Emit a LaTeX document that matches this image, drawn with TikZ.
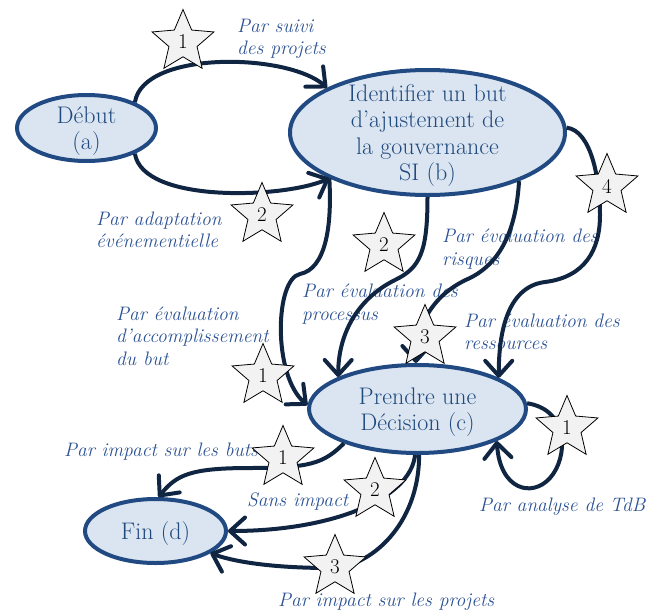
\documentclass[tikz,border=0pt]{standalone}
\usetikzlibrary{shapes.geometric,arrows.meta}

\definecolor{nodefill}{RGB}{219,229,241}
\definecolor{nodeline}{RGB}{33,74,130}
\definecolor{nodetext}{RGB}{31,73,125}
\definecolor{edgecol}{RGB}{16,37,66}
\definecolor{labtext}{RGB}{44,82,148}
\definecolor{starfill}{RGB}{242,242,242}

\begin{document}
\begin{tikzpicture}[
  x=1pt, y=-1pt,
  state/.style = {ellipse, draw=nodeline, fill=nodefill, line width=4pt,
                  inner sep=0pt},
  statetext/.style = {text=nodetext, align=center, yshift=-3pt,
                      font=\fontsize{24}{26.5}\selectfont},
  flow/.style = {draw=edgecol, line width=4pt,
                 -{Straight Barb[length=15pt,width=27pt,round]}},
  starmark/.style = {star, star points=5, star point ratio=2.2,
                     minimum size=65pt, inner sep=0pt, draw=black,
                     line width=0.8pt, fill=starfill,
                     font=\fontsize{21}{24}\selectfont},
  edgelab/.style = {anchor=west, inner sep=0pt, align=left, text=labtext,
                    font=\fontsize{19.5}{22.5}\selectfont\itshape},
]
\useasboundingbox (0,0) rectangle (650,613);

%% ── Labels of the transitions ────────────────────────────────────────────────
\node[edgelab] (tAB1) at (237,39)  {Par suivi\\des projets};
\node[edgelab] (tAB2) at (96,230)  {Par adaptation\\événementielle};
\node[edgelab] (tBC1) at (116,336) {Par évaluation\\d'accomplissement\\du but};
\node[edgelab] (tBC2) at (302,304) {Par évaluation des\\processus};
\node[edgelab] (tBC3) at (442,249) {Par évaluation des\\risques};
\node[edgelab] (tBC4) at (464,332) {Par évaluation des\\ressources};
\node[edgelab] (tCC1) at (479,507) {Par analyse de TdB};
\node[edgelab] (tCD1) at (64,452)  {Par impact sur les buts};
\node[edgelab] (tCD2) at (247,502) {Sans impact};
\node[edgelab] (tCD3) at (278,602) {Par impact sur les projets};

%% ── States ───────────────────────────────────────────────────────────────────
\node[state, minimum width=139pt, minimum height=66pt,
      label={[statetext]center:{Début\\(a)}}] (A) at (86.5,128) {};
\node[state, minimum width=275pt, minimum height=125pt,
      label={[statetext]center:{Identifier un but\\d'ajustement de\\la gouvernance\\SI (b)}}]
  (B) at (427.5,132.5) {};
\node[state, minimum width=217pt, minimum height=88pt,
      label={[statetext]center:{Prendre une\\Décision (c)}}] (C) at (417.5,409) {};
\node[state, minimum width=141pt, minimum height=64pt,
      label={[statetext]center:{Fin (d)}}] (D) at (155.5,531) {};

%% ── (a) -> (b) ───────────────────────────────────────────────────────────────
\draw[flow] (A.28) .. controls +(8,-52) and +(-40,-35) .. (B.156);
\draw[flow] (A.-28) .. controls +(8,50) and +(-45,20) .. (B.205);

%% ── (b) -> (c) ───────────────────────────────────────────────────────────────
\draw[flow] (B.205) .. controls +(3,50) and +(25,-5) .. (300,274)
  .. controls +(-25,5) and +(-35,-30) .. (C.178);
\draw[flow] (B.south) .. controls +(0,55) and +(25,-12) .. (395,280)
  .. controls +(-40,20) and +(0,-40) .. (C.158);
\draw[flow] (B.-28) .. controls +(-3,50) and +(30,-15) .. (470,278)
  .. controls +(-35,15) and +(0,-40) .. (C.92);
\draw[flow] (B.2) .. controls +(25,3) and +(0,-35) .. (600,215)
  .. controls +(0,35) and +(40,-5) .. (545,282)
  .. controls +(-40,5) and +(0,-40) .. (C.21);

%% ── (c) -> (c) ───────────────────────────────────────────────────────────────
\draw[flow] (C.3) .. controls (570,410) and (568,458) .. (550,478)
  .. controls (532,498) and (500,490) .. (C.-22);

%% ── (c) -> (d) ───────────────────────────────────────────────────────────────
\draw[flow] (C.205) .. controls +(-20,20) and +(60,0) .. (250,468)
  .. controls +(-60,0) and +(18,-22) .. (D.85);
\draw[flow] (C.-93) .. controls (410,500) and (330,531) .. (D.east);
\draw[flow] (C.-88) .. controls +(0,70) and +(40,0) .. (330,568)
  .. controls +(-50,0) and +(28,10) .. (D.-22);

%% ── Stars ────────────────────────────────────────────────────────────────────
\node[starmark] (sAB1) at (183,42)  {1};
\node[starmark] (sAB2) at (262,215) {2};
\node[starmark] (sBC1) at (263,376) {1};
\node[starmark] (sBC2) at (384,245) {2};
\node[starmark] (sBC3) at (425,337) {3};
\node[starmark] (sBC4) at (607,186) {4};
\node[starmark] (sCC1) at (567,428) {1};
\node[starmark] (sCD1) at (283,458) {1};
\node[starmark] (sCD2) at (375,490) {2};
\node[starmark] (sCD3) at (335,567) {3};

\end{tikzpicture}
\end{document}
